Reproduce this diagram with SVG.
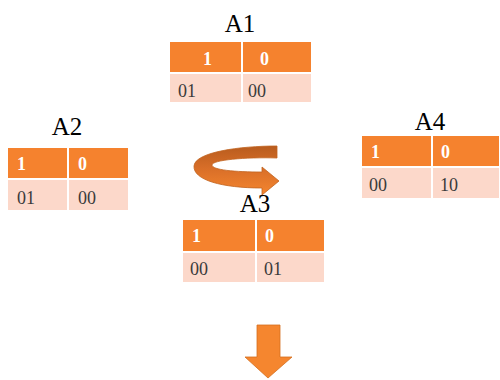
<svg xmlns="http://www.w3.org/2000/svg" width="500" height="380" viewBox="0 0 500 380">
<style>
.hd{fill:#F5822E}
.bd{fill:#FCD8CA}
.tt{font-family:"Liberation Serif",serif;font-size:25px;fill:#000}
.ht{font-family:"Liberation Serif",serif;font-size:18px;font-weight:bold;fill:#fff}
.bt{font-family:"Liberation Serif",serif;font-size:18px;fill:#3A3A3A}
</style>
<defs>
<linearGradient id="cg" x1="0" y1="0" x2="0" y2="1">
<stop offset="0" stop-color="#B85C1E"/>
<stop offset="0.45" stop-color="#D86E28"/>
<stop offset="1" stop-color="#F5862F"/>
</linearGradient>
</defs>
<rect width="500" height="380" fill="#fff"/>
<g id="A1">
<text class="tt" x="240" y="32" text-anchor="middle">A1</text>
<rect class="hd" x="170" y="42" width="71" height="30"/>
<rect class="hd" x="243" y="42" width="68" height="30"/>
<rect class="bd" x="170" y="74" width="71" height="28"/>
<rect class="bd" x="243" y="74" width="68" height="28"/>
<text class="ht" x="203" y="65">1</text>
<text class="ht" x="260" y="65">0</text>
<text class="bt" x="178" y="97">01</text>
<text class="bt" x="248" y="97">00</text>
</g>
<g id="A2">
<text class="tt" x="67" y="135" text-anchor="middle">A2</text>
<rect class="hd" x="8" y="148" width="59" height="30"/>
<rect class="hd" x="69" y="148" width="59" height="30"/>
<rect class="bd" x="8" y="180" width="59" height="30"/>
<rect class="bd" x="69" y="180" width="59" height="30"/>
<text class="ht" x="17" y="170">1</text>
<text class="ht" x="78" y="170">0</text>
<text class="bt" x="17" y="204">01</text>
<text class="bt" x="78" y="204">00</text>
</g>
<g id="A4">
<text class="tt" x="430" y="130" text-anchor="middle">A4</text>
<rect class="hd" x="362" y="136" width="69" height="30"/>
<rect class="hd" x="433" y="136" width="66" height="30"/>
<rect class="bd" x="362" y="168" width="69" height="30"/>
<rect class="bd" x="433" y="168" width="66" height="30"/>
<text class="ht" x="371" y="158">1</text>
<text class="ht" x="441" y="158">0</text>
<text class="bt" x="369" y="191">00</text>
<text class="bt" x="440" y="191">10</text>
</g>
<g id="A3">
<text class="tt" x="255" y="212" text-anchor="middle">A3</text>
<rect class="hd" x="183" y="220" width="72" height="31"/>
<rect class="hd" x="257" y="220" width="67" height="31"/>
<rect class="bd" x="183" y="253" width="72" height="29"/>
<rect class="bd" x="257" y="253" width="67" height="29"/>
<text class="ht" x="192" y="242">1</text>
<text class="ht" x="265" y="242">0</text>
<text class="bt" x="190" y="275">00</text>
<text class="bt" x="264" y="275">01</text>
</g>
<g id="connectors">
<path d="M277,146 L277,158 C245,157 212,160 212,165 C212,170 235,172 262,172 L262,167 L279,181 L262,195 L262,188 C222,188 193,180 194,166 C195,152 240,146 277,146 Z" fill="url(#cg)" stroke="#C0631F" stroke-width="0.8"/>
<polygon points="257,325 280,325 280,357 292,357 268,378 245,357 257,357" fill="#F5862F" stroke="#D4701F" stroke-width="0.8"/>
</g>
</svg>
